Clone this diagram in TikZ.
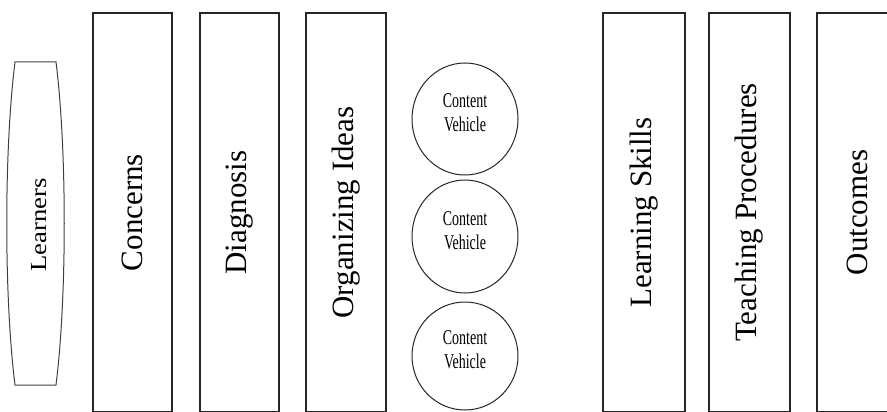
\documentclass[tikz,border=0pt]{standalone}
\usepackage{fontspec}
\setmainfont{Liberation Serif}
\usetikzlibrary{shapes.geometric}
\begin{document}
\begin{tikzpicture}[x=1pt,y=1pt,
  colbox/.style={draw=black!85, line width=1.3pt, rectangle, rotate=90,
    minimum height=#1, minimum width=399pt, inner sep=0pt,
    font=\fontsize{31}{37}\selectfont},
  cvell/.style={draw=black!85, line width=1pt, ellipse, minimum width=106pt,
    minimum height=#1, inner sep=0pt},
  cvtext/.style={inner sep=0pt, font=\fontsize{14}{16}\selectfont},
  lrnshape/.style={draw=black!75, line width=1pt}]
\useasboundingbox (0,0) rectangle (887,-412);
\clip (0,0) rectangle (887,-412);
% Learners
\draw[lrnshape] (15,-62) -- (56,-62) .. controls (67,-150) and (67,-297) .. (56,-385)
  -- (15,-385) .. controls (4,-297) and (4,-150) .. (15,-62) -- cycle;
\node[rotate=90, inner sep=0pt, font=\fontsize{23}{27}\selectfont] (learners) at (39,-225)
  {\scalebox{1.16}[1]{Learners}};
% columns
\node[colbox=79pt] (concerns) at (132.5,-212.5) {Concerns};
\node[colbox=79pt] (diagnosis) at (239.5,-212.5) {Diagnosis};
\node[colbox=80pt] (organizing) at (346,-212.5) {Organizing Ideas};
\node[colbox=82pt] (learning) at (644,-212.5) {Learning Skills};
\node[colbox=81pt] (teaching) at (749.5,-212.5) {Teaching Procedures};
\node[colbox=80pt] (outcomes) at (857,-212.5) {Outcomes};
% content vehicles
\node[cvell=112pt] (cv1) at (465,-119) {};
\node[cvell=113pt] (cv2) at (465,-236.5) {};
\node[cvell=108pt] (cv3) at (465,-356) {};
\foreach \e in {cv1,cv2,cv3}{
  \node[cvtext] (\e t) at ([yshift=4pt]\e.center)
    {\scalebox{1}[1.5]{\begin{tabular}{@{}c@{}}Content\\Vehicle\end{tabular}}};
}
\end{tikzpicture}
\end{document}
